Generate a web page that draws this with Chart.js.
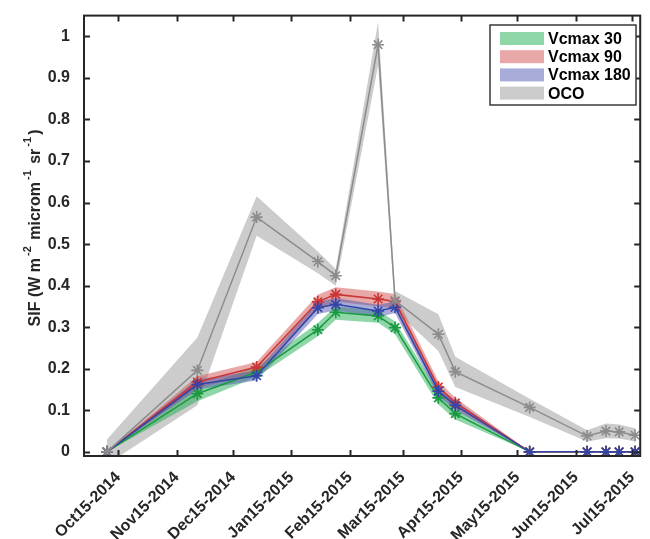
<!DOCTYPE html>
<html>
<head>
<meta charset="utf-8">
<script src="https://cdn.jsdelivr.net/npm/chart.js@4.4.0/dist/chart.umd.min.js"></script>
<style>
  html, body { margin: 0; padding: 0; background: #fff; }
</style>
</head>
<body>
<canvas id="grafico" width="650" height="539"></canvas>
<script>
// days counted from Oct 15 2014
const xDays = [-6, 42, 73.5, 106, 115.5, 138, 147, 170, 179, 218.5, 249, 259, 266, 274.5];

const oco   = [0, 0.196, 0.565, 0.458, 0.424, 0.980, 0.364, 0.283, 0.193, 0.107, 0.038, 0.050, 0.048, 0.040];
const ocoHi = [0.03, 0.275, 0.615, 0.482, 0.440, 1.035, 0.387, 0.331, 0.229, 0.128, 0.052, 0.068, 0.066, 0.057];
const ocoLo = [-0.03, 0.112, 0.520, 0.430, 0.400, 0.930, 0.340, 0.243, 0.156, 0.084, 0.025, 0.033, 0.032, 0.025];

const vc30   = [0, 0.140, 0.192, 0.294, 0.336, 0.327, 0.299, 0.130, 0.092, 0, 0, 0, 0, 0];
const vc30Hi = [0, 0.155, 0.205, 0.310, 0.350, 0.341, 0.314, 0.145, 0.105, 0, 0, 0, 0, 0];
const vc30Lo = [0, 0.122, 0.180, 0.278, 0.318, 0.311, 0.283, 0.114, 0.078, 0, 0, 0, 0, 0];

const vc90   = [0, 0.168, 0.204, 0.361, 0.379, 0.368, 0.362, 0.156, 0.118, 0, 0, 0, 0, 0];
const vc90Hi = [0, 0.182, 0.216, 0.378, 0.396, 0.386, 0.380, 0.170, 0.130, 0, 0, 0, 0, 0];
const vc90Lo = [0, 0.154, 0.190, 0.343, 0.362, 0.350, 0.346, 0.142, 0.105, 0, 0, 0, 0, 0];

const vc180   = [0, 0.162, 0.183, 0.347, 0.355, 0.339, 0.348, 0.146, 0.112, 0, 0, 0, 0, 0];
const vc180Hi = [0, 0.174, 0.195, 0.362, 0.370, 0.354, 0.362, 0.158, 0.123, 0, 0, 0, 0, 0];
const vc180Lo = [0, 0.150, 0.172, 0.332, 0.340, 0.324, 0.334, 0.134, 0.101, 0, 0, 0, 0, 0];

const xTickDays = [0, 31, 61, 92, 123, 151, 182, 212, 243, 273];
const xTickLabels = ['Oct15-2014', 'Nov15-2014', 'Dec15-2014', 'Jan15-2015', 'Feb15-2015',
                     'Mar15-2015', 'Apr15-2015', 'May15-2015', 'Jun15-2015', 'Jul15-2015'];
const yTicks = [0, 0.1, 0.2, 0.3, 0.4, 0.5, 0.6, 0.7, 0.8, 0.9, 1];
const yTickLabels = ['0', '0.1', '0.2', '0.3', '0.4', '0.5', '0.6', '0.7', '0.8', '0.9', '1'];

const seriesNames = ['Vcmax 30', 'Vcmax 90', 'Vcmax 180', 'OCO'];
const lineColors = ['#1a9a40', '#cc3535', '#3345a8', '#8c8c8c'];
const bandColors = ['rgba(31,173,81,0.5)', 'rgba(209,81,81,0.5)', 'rgba(81,89,177,0.5)', 'rgba(153,153,153,0.5)'];
const legendSwatch = ['#8fd6a8', '#e8a8a8', '#a8acd8', '#cccccc'];

const yTitleParts = [['SIF (W m', 0], ['-2', 1], [' microm', 0], ['-1', 1], [' sr', 0], ['-1', 1], [')', 0]];

const pts = arr => xDays.map((d, i) => ({ x: d, y: arr[i] }));

function bandSets(lo, hi, color, ord) {
  return [
    { data: pts(lo), borderWidth: 0, borderColor: 'rgba(0,0,0,0)', pointRadius: 0, fill: false, order: ord },
    { data: pts(hi), borderWidth: 0, borderColor: 'rgba(0,0,0,0)', pointRadius: 0, fill: '-1', backgroundColor: color, order: ord }
  ];
}
function lineSet(arr, color, ord) {
  return { data: pts(arr), borderColor: color, borderWidth: 1.5, pointStyle: 'star', pointRadius: 6,
           pointBorderColor: color, pointBorderWidth: 1.6, fill: false, order: ord };
}

const datasets = [
  ...bandSets(ocoLo, ocoHi, bandColors[3], 20),
  ...bandSets(vc30Lo, vc30Hi, bandColors[0], 19),
  ...bandSets(vc90Lo, vc90Hi, bandColors[1], 18),
  ...bandSets(vc180Lo, vc180Hi, bandColors[2], 17),
  lineSet(vc30, lineColors[0], 4),
  lineSet(vc90, lineColors[1], 3),
  lineSet(vc180, lineColors[2], 2),
  lineSet(oco, lineColors[3], 1)
];

const extras = {
  id: 'extras',
  afterDraw(chart) {
    const ctx = chart.ctx, a = chart.chartArea;
    const xs = chart.scales.x, ys = chart.scales.y;
    ctx.save();
    ctx.strokeStyle = '#262626';
    ctx.lineWidth = 2;
    ctx.strokeRect(a.left, a.top, a.right - a.left, a.bottom - a.top);
    ctx.beginPath();
    xTickDays.forEach(d => {
      const px = Math.round(xs.getPixelForValue(d)) + 0.5;
      ctx.moveTo(px, a.bottom); ctx.lineTo(px, a.bottom - 6);
      ctx.moveTo(px, a.top); ctx.lineTo(px, a.top + 6);
    });
    yTicks.forEach(v => {
      const py = Math.round(ys.getPixelForValue(v)) + 0.5;
      ctx.moveTo(a.left, py); ctx.lineTo(a.left + 6, py);
      ctx.moveTo(a.right, py); ctx.lineTo(a.right - 6, py);
    });
    ctx.stroke();

    // legend
    ctx.fillStyle = '#fff';
    ctx.fillRect(490, 25, 146, 80);
    ctx.strokeStyle = '#3a3a3a';
    ctx.lineWidth = 1.5;
    ctx.strokeRect(490, 25, 146, 80);
    ctx.font = 'bold 16px "Liberation Sans", Arial, sans-serif';
    ctx.textBaseline = 'middle';
    ctx.textAlign = 'left';
    seriesNames.forEach((n, i) => {
      const cy = 38.5 + i * 18.2;
      ctx.fillStyle = legendSwatch[i];
      ctx.fillRect(500, cy - 6.5, 44, 13);
      ctx.fillStyle = '#000';
      ctx.fillText(n, 548, cy + 1);
    });

    // y title with superscripts
    ctx.translate(40, 228);
    ctx.rotate(-Math.PI / 2);
    ctx.textBaseline = 'alphabetic';
    ctx.fillStyle = '#262626';
    const fontOf = s => s ? 'bold 11px "Liberation Sans", Arial, sans-serif' : 'bold 16px "Liberation Sans", Arial, sans-serif';
    const gap = 2;
    let total = 0;
    yTitleParts.forEach(p => { ctx.font = fontOf(p[1]); total += ctx.measureText(p[0]).width + (p[1] ? 2 * gap : 0); });
    let x = -total / 2;
    yTitleParts.forEach(p => {
      ctx.font = fontOf(p[1]);
      if (p[1]) x += gap;
      ctx.fillText(p[0], x, p[1] ? -9 : 0);
      x += ctx.measureText(p[0]).width + (p[1] ? gap : 0);
    });
    ctx.restore();
  }
};

new Chart(document.getElementById('grafico').getContext('2d'), {
  type: 'line',
  data: { datasets: datasets },
  options: {
    responsive: false,
    animation: false,
    layout: { padding: { top: 12, right: 9, left: 0, bottom: 0 } },
    elements: { line: { tension: 0 } },
    plugins: { legend: { display: false }, tooltip: { enabled: false } },
    scales: {
      x: {
        type: 'linear',
        min: -18.2, max: 277.2,
        grid: { display: false },
        border: { display: false },
        afterBuildTicks: s => { s.ticks = xTickDays.map(v => ({ value: v })); },
        afterFit: s => { s.height = 83; },
        ticks: {
          autoSkip: false, minRotation: 45, maxRotation: 45, padding: 4,
          color: '#262626',
          font: { family: '"Liberation Sans", Arial, sans-serif', size: 16, weight: 'bold' },
          callback: (v, i) => xTickLabels[i]
        }
      },
      y: {
        min: -0.01, max: 1.05,
        grid: { display: false },
        border: { display: false },
        afterBuildTicks: s => { s.ticks = yTicks.map(v => ({ value: v })); },
        afterFit: s => { s.width = 84; },
        ticks: {
          padding: 6,
          color: '#262626',
          font: { family: '"Liberation Sans", Arial, sans-serif', size: 16, weight: 'bold' },
          callback: (v, i) => yTickLabels[i]
        }
      }
    }
  },
  plugins: [extras]
});
</script>
</body>
</html>
